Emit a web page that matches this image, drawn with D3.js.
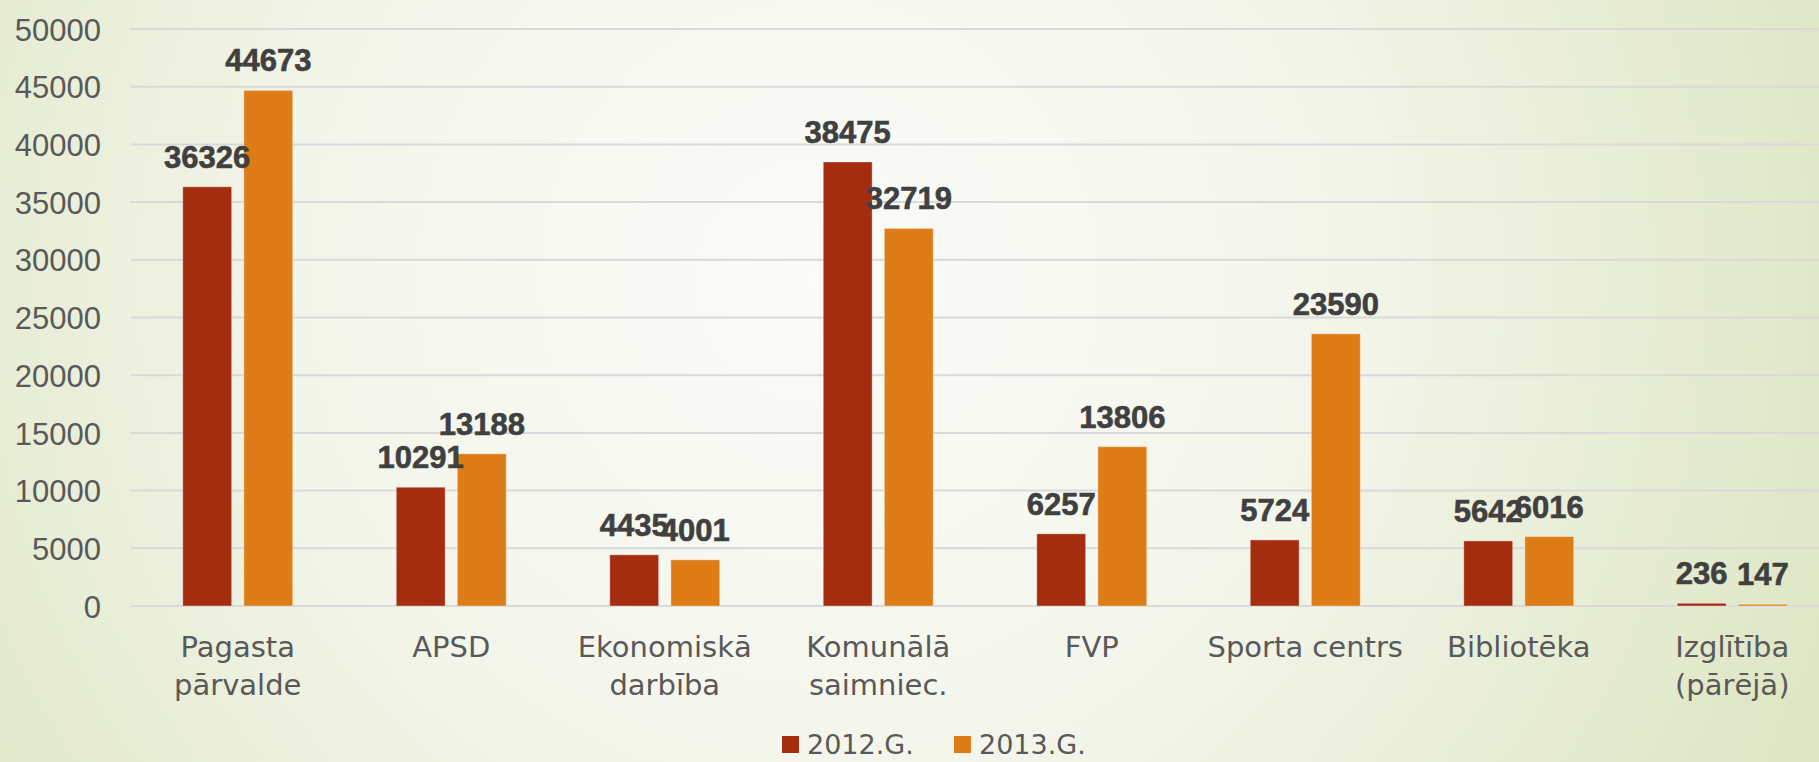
<!DOCTYPE html>
<html>
<head>
<meta charset="utf-8">
<script src="https://cdn.jsdelivr.net/npm/d3@7"></script>
<style>
  html, body { margin: 0; padding: 0; overflow: hidden; }
  svg { display: block; }
</style>
</head>
<body>
<div id="chart"></div>
<script>
var categories = [
  ["Pagasta", "pārvalde"],
  ["APSD"],
  ["Ekonomiskā", "darbība"],
  ["Komunālā", "saimniec."],
  ["FVP"],
  ["Sporta centrs"],
  ["Bibliotēka"],
  ["Izglītība", "(pārējā)"]
];
var seriesNames = ["2012.G.", "2013.G."];
var values2012 = [36326, 10291, 4435, 38475, 6257, 5724, 5642, 236];
var values2013 = [44673, 13188, 4001, 32719, 13806, 23590, 6016, 147];
var yTicks = [0, 5000, 10000, 15000, 20000, 25000, 30000, 35000, 40000, 45000, 50000];
var colors = ["#a52d0f", "#de7d18"];

var w = 1819,
    h = 762;

var svg = d3.select("#chart")
            .append("svg")
            .attr("width", w)
            .attr("height", h);

// background wash, pale centre going greener to the edges
var defs = svg.append("defs");
var grad = defs.append("radialGradient")
               .attr("id", "bg")
               .attr("gradientUnits", "userSpaceOnUse")
               .attr("cx", 820).attr("cy", 280)
               .attr("r", 1080);
grad.append("stop").attr("offset", "0").attr("stop-color", "#fbfbf8");
grad.append("stop").attr("offset", "0.45").attr("stop-color", "#f4f6ec");
grad.append("stop").attr("offset", "1").attr("stop-color", "#dee6c4");

svg.append("rect")
   .attr("width", w)
   .attr("height", h)
   .attr("fill", "url(#bg)");

var keys = categories.map(function(c, i) { return i; });

var x0 = d3.scaleBand()
           .domain(keys)
           .range([131, 1839])
           .paddingInner(0.485)
           .paddingOuter(0.2425);

var x1 = d3.scaleBand()
           .domain([0, 1])
           .range([0, x0.bandwidth()])
           .paddingInner(0.2);

var y = d3.scaleLinear()
          .domain([0, 50000])
          .range([606, 29]);

// gridlines
svg.append("g")
   .selectAll("line")
   .data(yTicks)
   .enter()
   .append("line")
   .attr("x1", 131)
   .attr("x2", w)
   .attr("y1", function(d) { return y(d); })
   .attr("y2", function(d) { return y(d); })
   .style("stroke", "#d9d9d9")
   .style("stroke-width", 2);

// y axis labels
var yAxis = d3.axisLeft(y)
              .tickValues(yTicks)
              .tickSize(0)
              .tickPadding(0)
              .tickFormat(d3.format("d"));

var yg = svg.append("g")
            .attr("transform", "translate(101,0)")
            .call(yAxis);
yg.select(".domain").remove();
yg.selectAll("text")
  .attr("dy", "0.36em")
  .style("font-family", "'Liberation Sans', Arial, sans-serif")
  .style("font-size", "31px")
  .style("fill", "#595959");

var rows = categories.map(function(c, i) {
    return { i: i, vals: [values2012[i], values2013[i]] };
});

var groups = svg.selectAll("g.cat")
                .data(rows)
                .enter()
                .append("g")
                .attr("class", "cat")
                .attr("transform", function(d) { return "translate(" + x0(d.i) + ",0)"; });

groups.selectAll("rect")
      .data(function(d) { return d.vals.map(function(v, s) { return { s: s, v: v }; }); })
      .enter()
      .append("rect")
      .attr("x", function(d) { return x1(d.s); })
      .attr("y", function(d) { return y(d.v); })
      .attr("width", x1.bandwidth())
      .attr("height", function(d) { return y(0) - y(d.v); })
      .style("fill", function(d) { return colors[d.s]; })
      .style("stroke", "rgba(255,255,255,0.35)")
      .style("stroke-width", 1);

// value labels, drawn after all bars so they sit on top
var labelData = [];
rows.forEach(function(r) {
    r.vals.forEach(function(v, s) { labelData.push({ i: r.i, s: s, v: v }); });
});

svg.append("g")
   .selectAll("text")
   .data(labelData)
   .enter()
   .append("text")
   .attr("x", function(d) { return x0(d.i) + x1(d.s) + x1.bandwidth() / 2; })
   .attr("y", function(d) { return y(d.v) - 19; })
   .attr("text-anchor", "middle")
   .style("font-family", "'Liberation Sans', Arial, sans-serif")
   .style("font-weight", "bold")
   .style("font-size", "31px")
   .style("fill", "#404040")
   .style("stroke", "#404040")
   .style("stroke-width", 0.6)
   .text(function(d) { return d.v; });

// category labels
var catLabels = svg.append("g")
                   .selectAll("text")
                   .data(categories)
                   .enter()
                   .append("text")
                   .attr("text-anchor", "middle")
                   .attr("x", function(d, i) { return x0(i) + x0.bandwidth() / 2; })
                   .attr("y", 657)
                   .style("font-family", "'DejaVu Sans', sans-serif")
                   .style("font-size", "29px")
                   .style("fill", "#595959");

catLabels.selectAll("tspan")
         .data(function(d) { return d; })
         .enter()
         .append("tspan")
         .attr("x", function() { return this.parentNode.getAttribute("x"); })
         .attr("dy", function(d, j) { return j === 0 ? 0 : 38; })
         .text(function(d) { return d; });

// legend
var legendX = [782, 954];
var legend = svg.append("g")
                .selectAll("g")
                .data(seriesNames)
                .enter()
                .append("g")
                .attr("transform", function(d, i) { return "translate(" + legendX[i] + ",0)"; });

legend.append("rect")
      .attr("x", 0)
      .attr("y", 736)
      .attr("width", 17)
      .attr("height", 17)
      .style("fill", function(d, i) { return colors[i]; });

legend.append("text")
      .attr("x", 25)
      .attr("y", 754)
      .style("font-family", "'DejaVu Sans', sans-serif")
      .style("font-size", "27px")
      .style("fill", "#595959")
      .text(function(d) { return d; });
</script>
</body>
</html>
